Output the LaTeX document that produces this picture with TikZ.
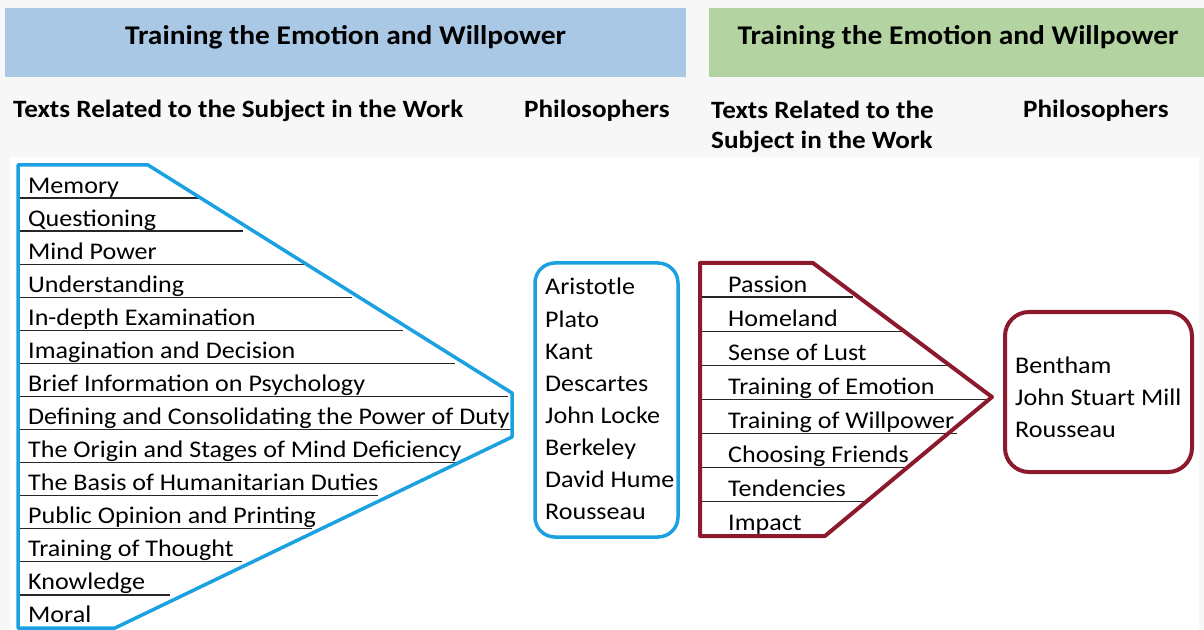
\documentclass[tikz,border=0pt]{standalone}
\usepackage{fontspec}
\setmainfont{Carlito}[FakeStretch=1.09]
\definecolor{headblue}{HTML}{A9C8E6}
\definecolor{headgreen}{HTML}{B3D4A1}
\definecolor{lineblue}{HTML}{1BA1E2}
\definecolor{linered}{HTML}{8C1A2C}
\definecolor{paper}{HTML}{F7F7F7}
\begin{document}
\begin{tikzpicture}[x=1bp, y=-1bp,
    head/.style={font=\fontsize{27.1}{30}\selectfont\bfseries},
    subhead/.style={font=\fontsize{25}{31}\selectfont\bfseries, anchor=base west, inner sep=0pt, align=left},
    item/.style={font=\fontsize{24}{32}\selectfont, anchor=base west, inner sep=0pt},
    rowline/.style={line width=1.3bp, black!85}]
    \useasboundingbox (0,0) rectangle (1204,630);
    \fill[paper] (0,0) rectangle (1204,630);
    \fill[white] (10,157) rectangle (1199,630);

    % Headers
    \fill[headblue] (5,8) rectangle (686,77);
    \node[head] (hl) at (345.5,37) {Training the Emotion and Willpower};
    \fill[headgreen] (709,8) rectangle (1204,77);
    \node[head] (hr) at (958,37) {Training the Emotion and Willpower};
    \node[subhead] (sl) at (13,118) {Texts Related to the Subject in the Work};
    \node[subhead] (pl) at (524,118) {Philosophers};
    \node[subhead] (sr) at (711,149) {Texts Related to the\\Subject in the Work};
    \node[subhead] (pr) at (1023,118) {Philosophers};

    % Texts in the work (blue)
    \foreach \t/\len [count=\i] in {Memory/200, Questioning/243, Mind Power/308,
        Understanding/352, In-depth Examination/403, Imagination and Decision/455,
        Brief Information on Psychology/508, Defining and Consolidating the Power of Duty/512,
        The Origin and Stages of Mind Deficiency/458, The Basis of Humanitarian Duties/378,
        Public Opinion and Printing/312, Training of Thought/242, Knowledge/170, Moral/0} {
      \node[item] (b\i) at (28,{165+33.07*\i-5}) {\t};
      \ifnum\i<14 \draw[rowline] (18,{165+33.07*\i}) -- (\len,{165+33.07*\i}); \fi
    }
    \draw[lineblue, line width=3.5bp, line join=round]
      (18,165) -- (148,165) -- (512,393) -- (512,437) -- (115,628) -- (18,628) -- cycle;

    % Philosophers (blue)
    \draw[lineblue, line width=3.5bp, rounded corners=20bp] (535,263) rectangle (678,537);
    \foreach \p [count=\i] in {Aristotle, Plato, Kant, Descartes, John Locke, Berkeley, David Hume, Rousseau}
      \node[item] (pb\i) at (545,{295+32.1*(\i-1)}) {\p};

    % Texts in the work (red)
    \foreach \t/\len [count=\i] in {Passion/853, Homeland/907, Sense of Lust/950,
        Training of Emotion/992, Training of Willpower/957, Choosing Friends/910,
        Tendencies/867, Impact/0} {
      \node[item] (r\i) at (728,{263+34.1*\i-5}) {\t};
      \ifnum\i<8 \draw[rowline] (700,{263+34.1*\i}) -- (\len,{263+34.1*\i}); \fi
    }
    \draw[linered, line width=4bp, line join=round]
      (700,263) -- (813,263) -- (992,397) -- (825,536) -- (700,536) -- cycle;

    % Philosophers (red)
    \draw[linered, line width=4bp, rounded corners=24bp] (1005,312) rectangle (1192,472);
    \foreach \p [count=\i] in {Bentham, John Stuart Mill, Rousseau}
      \node[item] (pr\i) at (1015,{373+32*(\i-1)}) {\p};
\end{tikzpicture}
\end{document}
